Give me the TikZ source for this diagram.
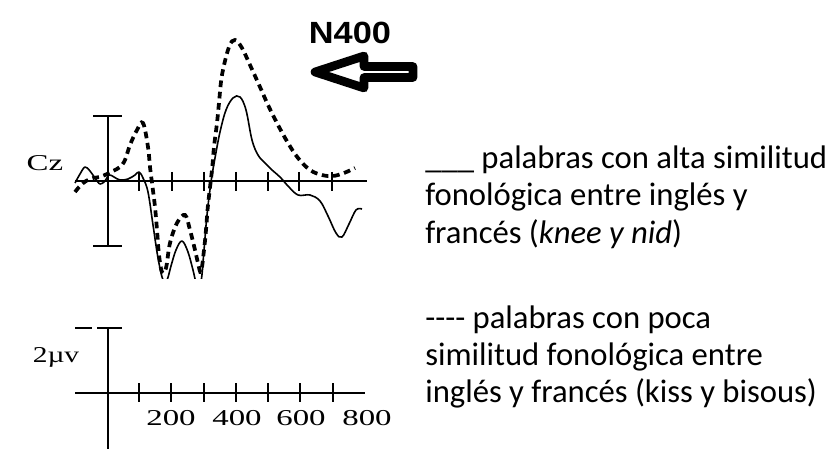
\documentclass[tikz,border=0pt]{standalone}
\usepackage{fontspec}
\setmainfont{Carlito}
\newfontfamily\plotfont{Liberation Serif}
\newfontfamily\markfont{Liberation Sans}
\usepackage{tikz}
\usetikzlibrary{calc}

\tikzset{
  axisline/.style={line width=1.9pt},
  tickline/.style={line width=1.6pt},
  altaline/.style={line width=1.2pt, line join=round},
  pocaline/.style={line width=2.8pt, dash pattern=on 5pt off 3.5pt},
  plotlabel/.style={font=\plotfont\fontsize{17}{17}\selectfont, inner sep=0pt},
  legendtext/.style={font=\fontsize{24.5}{28}\selectfont, align=left, inner sep=0pt}
}

\begin{document}
\begin{tikzpicture}[x=0.75pt, y=-0.75pt]
	\useasboundingbox (0,0) rectangle (832,449);
	% top plot: Cz
	\draw[axisline] (75,181) -- (367,181);
	\draw[axisline] (108,116) -- (108,246);
	\draw[axisline] (93,116) -- (122,116);
	\draw[axisline] (93,246) -- (122,246);
	\foreach \x in {139,172,204,236,268,299,332}
		\draw[tickline] (\x,172) -- (\x,191);
	\node[plotlabel] (cz) at (45,163) {\scalebox{1.45}[1]{Cz}};
	% waveforms
	\begin{scope}
	\clip (0,0) rectangle (832,278);
	\draw[altaline] plot[smooth, tension=0.6] coordinates {(75,183) (80,174) (85,167) (90,171) (95,178) (100,184) (105,181) (109,175) (114,177) (120,180) (128,179) (135,175) (139,172) (143,178) (148,192) (153,225) (158,258) (163,280) (167,280) (171,266) (176,250) (182,241) (188,252) (193,270) (196,281) (201,281) (204,250) (207,215) (211,182) (215,158) (220,132) (226,110) (233,98) (240,97) (246,110) (252,140) (258,155) (265,163) (272,170) (280,177) (288,186) (298,195) (310,195) (320,201) (328,216) (336,233) (342,237) (349,224) (356,210) (362,209)};
	\draw[pocaline] plot[smooth, tension=0.6] coordinates {(75,192) (80,186) (86,181) (93,178) (100,177) (107,174) (113,171) (120,167) (125,160) (130,145) (137,130) (143,123) (148,147) (150,167) (152,183) (155,207) (157,230) (159,255) (162,272) (166,268) (170,243) (177,223) (185,215) (190,230) (195,250) (198,263) (201,272) (204,250) (206,230) (208,205) (212,170) (214,147) (217,123) (219,103) (222,75) (229,47) (235,40) (242,48) (250,65) (260,87) (268,105) (278,125) (288,143) (298,158) (310,170) (322,175) (333,176) (344,173) (355,168)};
	\end{scope}
	% N400 marker
	\node[font=\markfont\fontsize{23}{23}\selectfont\bfseries, inner sep=0pt] (n400) at (350,33) {\scalebox{1.12}[1]{N400}};
	\draw[line width=6.5pt, line join=round, fill=white] (315,72) -- (364,56) -- (364,66.5) -- (413,66.5) -- (413,77.5) -- (364,77.5) -- (364,88) -- cycle;
	% bottom plot: scale
	\draw[axisline] (75,393) -- (365,393);
	\draw[axisline] (108,328) -- (108,449);
	\draw[axisline] (75,328) -- (92,328);
	\draw[axisline] (97,328) -- (122,328);
	\foreach \x in {139,171,204,236,268,300,333}
		\draw[tickline] (\x,383) -- (\x,402);
	\node[plotlabel] (uv) at (56,357) {\scalebox{1.3}[1]{2µv}};
	\foreach \v/\x in {200/171,400/237,600/301,800/367}
		\node[plotlabel] (l\v) at (\x,418) {\scalebox{1.45}[1]{\v}};
	% legend
	\node[legendtext, anchor=west] (alta) at (425,197) {\_\_\_ palabras con alta similitud\\fonológica entre inglés y\\francés (\textit{knee y nid})};
	\node[legendtext, anchor=west] (poca) at (425,357) {-{}-{}-{}- palabras con poca\\similitud fonológica entre\\inglés y francés (kiss y bisous)};
\end{tikzpicture}
\end{document}
